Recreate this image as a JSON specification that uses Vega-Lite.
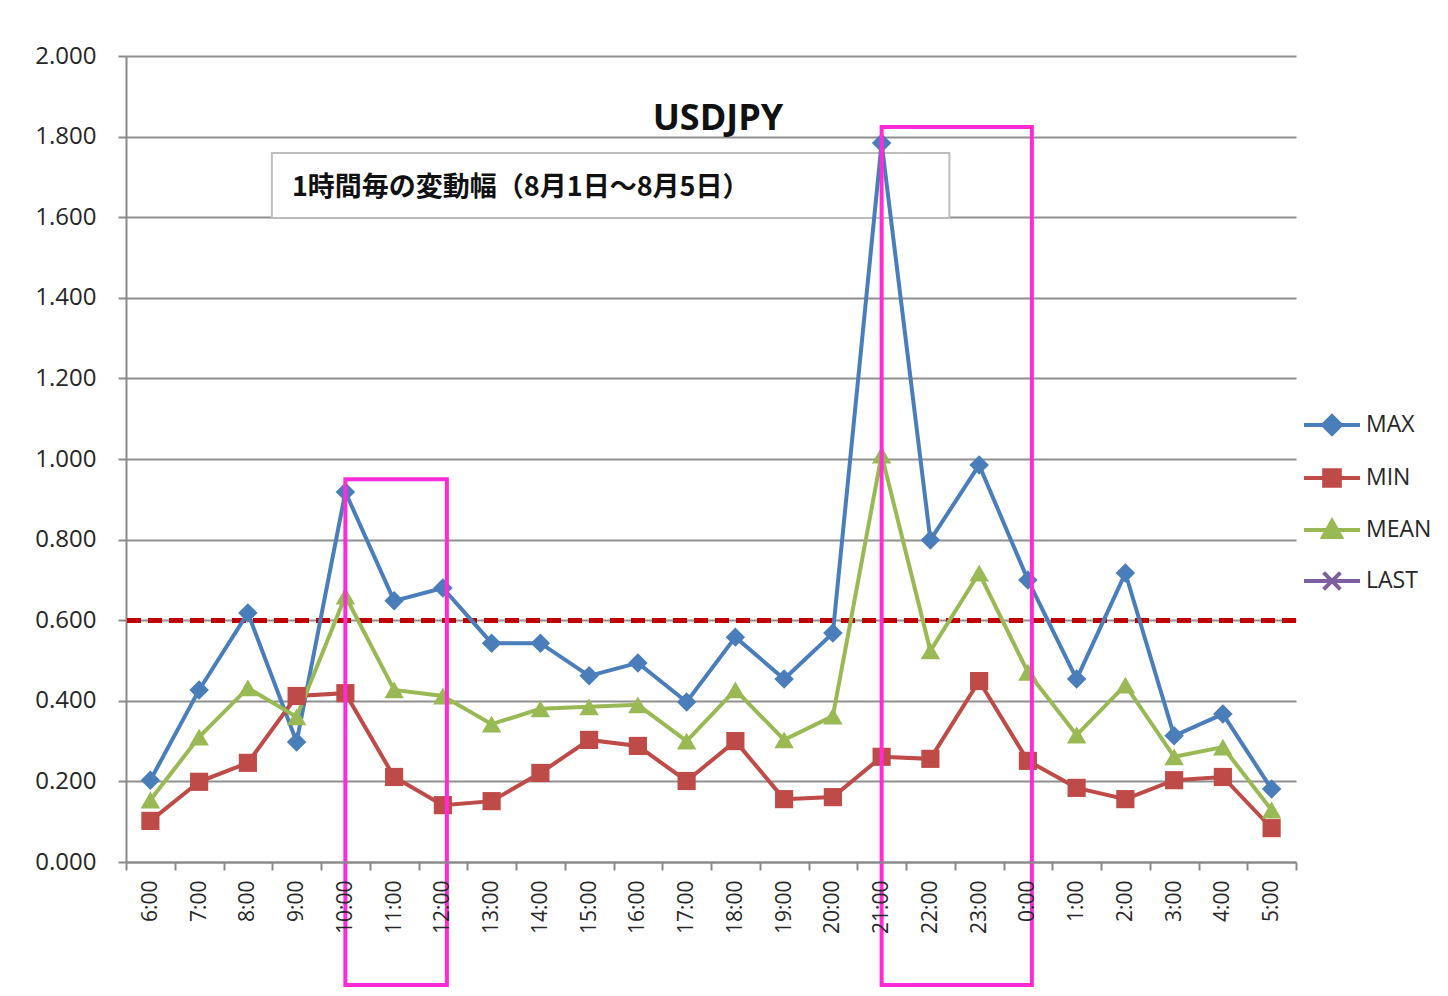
{
  "$schema": "https://vega.github.io/schema/vega-lite/v6.json",
  "autosize": {"type": "none"},
  "width": 1170,
  "height": 806,
  "padding": {"left": 126, "top": 56, "right": 152, "bottom": 134},
  "background": "white",
  "config": {
    "view": {"stroke": null},
    "font": "Open Sans"
  },
  "title": {
    "text": "USDJPY",
    "font": "Open Sans",
    "fontSize": 36,
    "fontWeight": "bold",
    "color": "#111111",
    "anchor": "middle",
    "offset": -94,
    "dx": 7
  },
  "datasets": {
    "main": [
      {"hour": "6:00", "MAX": 0.203, "MIN": 0.102, "MEAN": 0.154},
      {"hour": "7:00", "MAX": 0.427, "MIN": 0.199, "MEAN": 0.310},
      {"hour": "8:00", "MAX": 0.618, "MIN": 0.246, "MEAN": 0.432},
      {"hour": "9:00", "MAX": 0.298, "MIN": 0.412, "MEAN": 0.360},
      {"hour": "10:00", "MAX": 0.918, "MIN": 0.419, "MEAN": 0.660},
      {"hour": "11:00", "MAX": 0.648, "MIN": 0.211, "MEAN": 0.427},
      {"hour": "12:00", "MAX": 0.680, "MIN": 0.141, "MEAN": 0.412},
      {"hour": "13:00", "MAX": 0.543, "MIN": 0.151, "MEAN": 0.342},
      {"hour": "14:00", "MAX": 0.543, "MIN": 0.221, "MEAN": 0.380},
      {"hour": "15:00", "MAX": 0.462, "MIN": 0.303, "MEAN": 0.385},
      {"hour": "16:00", "MAX": 0.494, "MIN": 0.288, "MEAN": 0.390},
      {"hour": "17:00", "MAX": 0.397, "MIN": 0.201, "MEAN": 0.300},
      {"hour": "18:00", "MAX": 0.558, "MIN": 0.300, "MEAN": 0.427},
      {"hour": "19:00", "MAX": 0.454, "MIN": 0.156, "MEAN": 0.303},
      {"hour": "20:00", "MAX": 0.568, "MIN": 0.161, "MEAN": 0.362},
      {"hour": "21:00", "MAX": 1.784, "MIN": 0.261, "MEAN": 1.010},
      {"hour": "22:00", "MAX": 0.799, "MIN": 0.256, "MEAN": 0.524},
      {"hour": "23:00", "MAX": 0.985, "MIN": 0.449, "MEAN": 0.717},
      {"hour": "0:00", "MAX": 0.700, "MIN": 0.251, "MEAN": 0.471},
      {"hour": "1:00", "MAX": 0.454, "MIN": 0.184, "MEAN": 0.315},
      {"hour": "2:00", "MAX": 0.717, "MIN": 0.156, "MEAN": 0.439},
      {"hour": "3:00", "MAX": 0.313, "MIN": 0.203, "MEAN": 0.261},
      {"hour": "4:00", "MAX": 0.367, "MIN": 0.211, "MEAN": 0.285},
      {"hour": "5:00", "MAX": 0.181, "MIN": 0.084, "MEAN": 0.129}
    ],
    "highlights": [
      {"start": "10:00", "end": "12:00", "top": 0.95, "bottom": -0.305},
      {"start": "21:00", "end": "0:00", "top": 1.824, "bottom": -0.305}
    ],
    "note": [
      {"start": "8:00", "end": "22:00", "top": 1.759, "bottom": 1.598, "mid": 1.672, "label": "1時間毎の変動幅（8月1日～8月5日）"}
    ]
  },
  "encoding": {
    "x": {
      "field": "hour",
      "type": "nominal",
      "sort": null,
      "title": null,
      "scale": {
        "type": "band",
        "domain": ["6:00","7:00","8:00","9:00","10:00","11:00","12:00","13:00","14:00","15:00","16:00","17:00","18:00","19:00","20:00","21:00","22:00","23:00","0:00","1:00","2:00","3:00","4:00","5:00"],
        "paddingInner": 0,
        "paddingOuter": 0
      },
      "axis": {
        "labelAngle": 270,
        "labelFont": "Open Sans",
        "labelFontSize": 21,
        "labelColor": "#262626",
        "labelPadding": 10,
        "tickBand": "extent",
        "tickSize": 8,
        "tickColor": "#8a8a8a",
        "tickWidth": 2,
        "domainColor": "#8a8a8a",
        "domainWidth": 2,
        "grid": false
      }
    }
  },
  "layer": [
    {
      "data": {"name": "note"},
      "mark": {"type": "rect", "fill": "white", "stroke": "#bdbdbd", "strokeWidth": 2, "xOffset": 24, "x2Offset": 19},
      "encoding": {
        "x": {"field": "start", "type": "nominal", "bandPosition": 0.5},
        "x2": {"field": "end"},
        "y": {"field": "top", "type": "quantitative", "scale": {"domain": [0, 2], "nice": false}},
        "y2": {"field": "bottom"}
      }
    },
    {
      "data": {"name": "main"},
      "transform": [{"fold": ["MAX", "MIN", "MEAN"], "as": ["series", "value"]}],
      "layer": [
        {
          "mark": {"type": "rule", "color": "#C00000", "strokeWidth": 4, "strokeDash": [14, 7]},
          "encoding": {"y": {"datum": 0.6, "type": "quantitative"}, "x": null}
        },
        {
          "mark": {"type": "line", "strokeWidth": 4},
          "encoding": {
            "y": {
              "field": "value",
              "type": "quantitative",
              "title": null,
              "scale": {"domain": [0, 2], "nice": false},
              "axis": {
                "values": [0, 0.2, 0.4, 0.6, 0.8, 1.0, 1.2, 1.4, 1.6, 1.8, 2.0],
                "format": ".3f",
                "labelFont": "Open Sans",
                "labelFontSize": 24,
                "labelColor": "#262626",
                "labelPadding": 22,
                "tickSize": 8,
                "tickColor": "#8a8a8a",
                "tickWidth": 2,
                "domainColor": "#8a8a8a",
                "domainWidth": 2,
                "gridColor": "#8f8f8f",
                "gridWidth": 2
              }
            },
            "color": {
              "field": "series",
              "type": "nominal",
              "scale": {"domain": ["MAX", "MIN", "MEAN", "LAST"], "range": ["#4A7EBB", "#BE4B48", "#98B954", "#7D60A0"]},
              "legend": {
                "orient": "none",
                "legendX": 1176,
                "legendY": 339,
                "title": null,
                "padding": 0,
                "symbolSize": 3136,
                "symbolStrokeWidth": 4,
                "symbolOpacity": 1,
                "labelFont": "Open Sans",
                "labelFontSize": 23,
                "labelColor": "#262626",
                "labelOffset": 4,
                "rowPadding": 6
              }
            }
          }
        },
        {
          "transform": [{"filter": "datum.series === 'MAX'"}],
          "mark": {"type": "point", "filled": true, "size": 380, "opacity": 1, "shape": "diamond"},
          "encoding": {
            "y": {"field": "value", "type": "quantitative"},
            "color": {"field": "series", "type": "nominal"}
          }
        },
        {
          "transform": [{"filter": "datum.series === 'MIN'"}],
          "mark": {"type": "point", "filled": true, "size": 330, "opacity": 1, "shape": "square"},
          "encoding": {
            "y": {"field": "value", "type": "quantitative"},
            "color": {"field": "series", "type": "nominal"}
          }
        },
        {
          "transform": [{"filter": "datum.series === 'MEAN'"}],
          "mark": {"type": "point", "filled": true, "size": 380, "opacity": 1, "shape": "triangle-up"},
          "encoding": {
            "y": {"field": "value", "type": "quantitative"},
            "color": {"field": "series", "type": "nominal"}
          }
        },
        {
          "mark": {"type": "point", "opacity": 0, "filled": true},
          "encoding": {
            "y": {"field": "value", "type": "quantitative"},
            "color": {"field": "series", "type": "nominal"},
            "shape": {
              "field": "series",
              "type": "nominal",
              "scale": {
                "domain": ["MAX", "MIN", "MEAN", "LAST"],
                "range": [
                  "M-1,0H1M0,-0.32L0.32,0L0,0.32L-0.32,0Z",
                  "M-1,0H1M-0.28,-0.28H0.28V0.28H-0.28Z",
                  "M-1,0H1M0,-0.32L0.32,0.25H-0.32Z",
                  "M-1,0H1M-0.3,-0.3L0.3,0.3M-0.3,0.3L0.3,-0.3"
                ]
              },
              "legend": {
                "orient": "none",
                "legendX": 1176,
                "legendY": 339,
                "title": null,
                "padding": 0,
                "symbolSize": 3136,
                "symbolStrokeWidth": 4,
                "symbolOpacity": 1,
                "labelFont": "Open Sans",
                "labelFontSize": 23,
                "labelColor": "#262626",
                "labelOffset": 4,
                "rowPadding": 6
              }
            }
          }
        }
      ]
    },
    {
      "data": {"name": "note"},
      "mark": {"type": "text", "align": "left", "baseline": "middle", "font": "Noto Sans CJK JP", "fontSize": 27, "fontWeight": "bold", "color": "#111111", "dx": 44},
      "encoding": {
        "x": {"field": "start", "type": "nominal", "bandPosition": 0.5},
        "y": {"field": "mid", "type": "quantitative"},
        "text": {"field": "label"}
      }
    },
    {
      "data": {"name": "highlights"},
      "mark": {"type": "rect", "fill": null, "filled": false, "stroke": "#FF2BD6", "strokeWidth": 4, "clip": false, "x2Offset": 4},
      "encoding": {
        "x": {"field": "start", "type": "nominal", "bandPosition": 0.5},
        "x2": {"field": "end"},
        "y": {"field": "top", "type": "quantitative"},
        "y2": {"field": "bottom"}
      }
    }
  ]
}
